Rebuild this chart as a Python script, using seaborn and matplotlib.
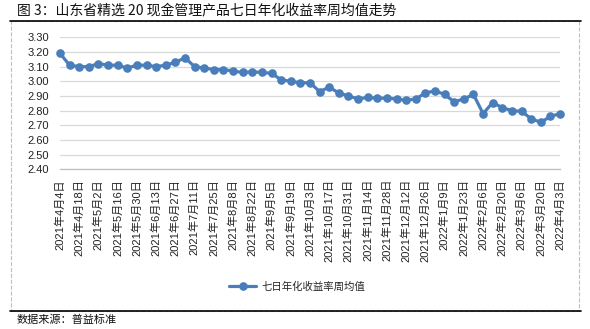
import matplotlib
matplotlib.use("Agg")
import matplotlib.pyplot as plt
from matplotlib.lines import Line2D
from matplotlib.patches import Rectangle
import numpy as np
import pandas as pd
import seaborn as sns

# Weekly average of the 7-day annualised yield, 2021-04-04 .. 2022-04-03
weeks = pd.date_range("2021-04-04", "2022-04-03", freq="7D")
yield_avg = [
    3.19, 3.11, 3.10, 3.10, 3.12, 3.11, 3.11, 3.09, 3.11, 3.11,
    3.10, 3.11, 3.13, 3.16, 3.10, 3.09, 3.08, 3.08, 3.07, 3.06,
    3.065, 3.06, 3.055, 3.01, 3.00, 2.99, 2.99, 2.93, 2.96, 2.92,
    2.90, 2.88, 2.89, 2.885, 2.885, 2.88, 2.87, 2.88, 2.92, 2.935,
    2.91, 2.86, 2.88, 2.91, 2.78, 2.855, 2.82, 2.80, 2.795, 2.745,
    2.72, 2.76, 2.78,
]
tick_labels = [
    "2021年4月4日", "2021年4月18日", "2021年5月2日", "2021年5月16日",
    "2021年5月30日", "2021年6月13日", "2021年6月27日", "2021年7月11日",
    "2021年7月25日", "2021年8月8日", "2021年8月22日", "2021年9月5日",
    "2021年9月19日", "2021年10月3日", "2021年10月17日", "2021年10月31日",
    "2021年11月14日", "2021年11月28日", "2021年12月12日", "2021年12月26日",
    "2022年1月9日", "2022年1月23日", "2022年2月6日", "2022年2月20日",
    "2022年3月6日", "2022年3月20日", "2022年4月3日",
]
y_ticks = [2.40, 2.50, 2.60, 2.70, 2.80, 2.90, 3.00, 3.10, 3.20, 3.30]
series_name = "七日年化收益率周均值"
title = "图 3：山东省精选 20 现金管理产品七日年化收益率周均值走势"
source = "数据来源：普益标准"

df = pd.DataFrame({"week": np.arange(len(weeks)), "value": yield_avg})

sns.set_theme(style="white")
plt.rcParams["font.family"] = ["Noto Sans CJK SC", "DejaVu Sans"]
tick_font = ["Liberation Sans", "Noto Sans CJK SC"]

W, H = 590, 329
fig = plt.figure(figsize=(W / 100, H / 100), dpi=100)
ax = fig.add_axes([60 / W, 1 - 169.3 / H, 500 / W, (169.3 - 37.3) / H])

sns.lineplot(data=df, x="week", y="value", ax=ax, color="#4A7EBB",
             linewidth=2.3, marker="o", markersize=6.2, markeredgewidth=0,
             label=series_name, clip_on=False, zorder=3)

ax.set_xlim(0, len(weeks) - 1)
ax.set_ylim(y_ticks[0], y_ticks[-1])
ax.set_yticks(y_ticks)
ax.set_yticklabels([f"{v:.2f}" for v in y_ticks], fontsize=8,
                   color="#222222", family=tick_font)
ax.set_xticks(np.arange(0, len(weeks), 2))
ax.set_xticklabels(tick_labels, rotation=90, fontsize=8,
                   color="#222222", family=tick_font)
ax.set_xlabel("")
ax.set_ylabel("")

ax.grid(axis="y", color="#D9D9D9", linewidth=0.9)
ax.grid(axis="x", visible=False)
for side in ("top", "right", "left"):
    ax.spines[side].set_visible(False)
ax.spines["bottom"].set_color("#BFBFBF")
ax.spines["bottom"].set_linewidth(0.9)
ax.tick_params(axis="x", length=4, width=0.8, color="#BFBFBF", direction="out", pad=3)
ax.tick_params(axis="y", length=0, pad=8)

ax.get_legend().remove()
handles, labels = ax.get_legend_handles_labels()
fig.legend(handles, labels, loc="center", bbox_to_anchor=(297 / W, 1 - 287 / H),
           frameon=False, fontsize=7.5, handlelength=2.6, handletextpad=0.5)

# Title, rules and dashed chart frame
fig.text(17 / W, 1 - 10 / H, title, fontsize=10, va="center", ha="left", color="#111111")
fig.add_artist(Line2D([10 / W, 581 / W], [1 - 21 / H, 1 - 21 / H], color="black", linewidth=1.2))
fig.add_artist(Rectangle((11 / W, 1 - 311 / H), (579 - 11) / W, (311 - 21) / H,
                         fill=False, linestyle="--", edgecolor="#BFBFBF", linewidth=0.8))
fig.add_artist(Line2D([10 / W, 581 / W], [1 - 311 / H, 1 - 311 / H], color="black", linewidth=1.2))
fig.text(17 / W, 1 - 320 / H, source, fontsize=8, va="center", ha="left", color="#111111")

fig.savefig("out.png", dpi=100)
